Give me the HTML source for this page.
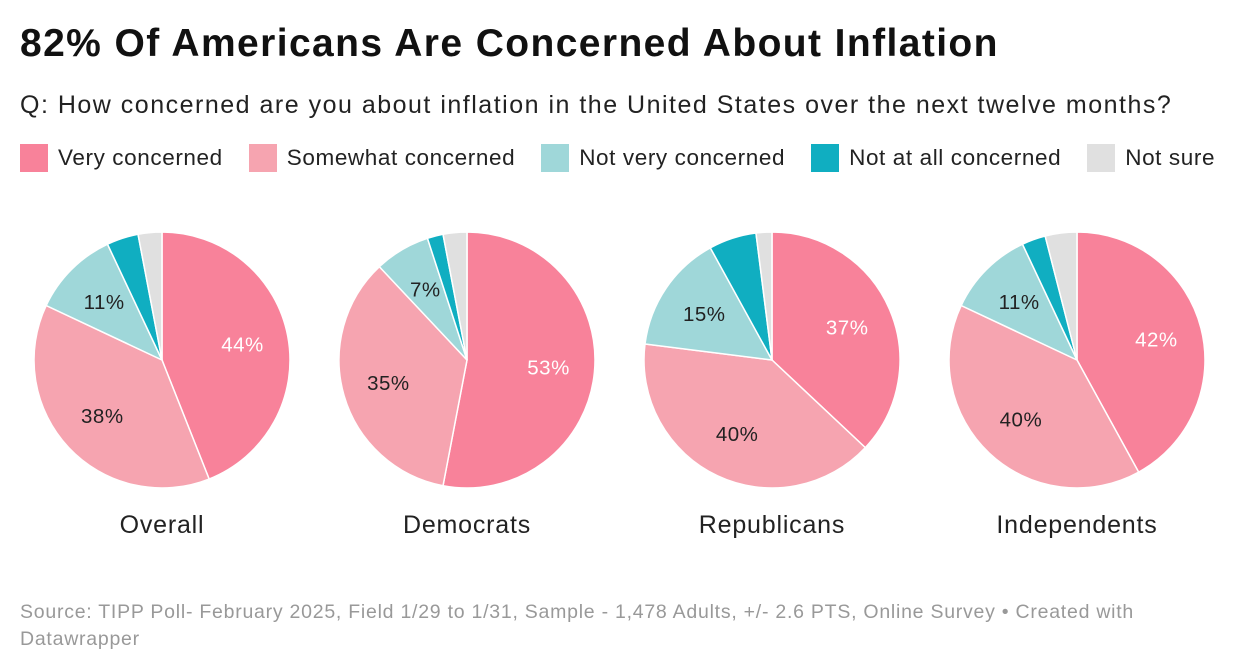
<!DOCTYPE html>
<html><head><meta charset="utf-8"><style>
body{margin:0;width:1240px;height:672px;background:#fff;font-family:"Liberation Sans",Arial,sans-serif;overflow:hidden;position:relative}
h1{position:absolute;left:20px;top:22px;margin:0;font-size:39px;font-weight:bold;color:#111;letter-spacing:1.4px;white-space:nowrap}
.q{position:absolute;left:20px;top:91px;font-size:25px;color:#222;letter-spacing:1.5px;white-space:nowrap}
.legend{position:absolute;left:20px;top:144px;font-size:22.5px;color:#222;display:flex;letter-spacing:0.6px;white-space:nowrap}
.li{display:flex;align-items:center;margin-right:26px}
.sw{width:28px;height:28px;margin-right:10px}
.src{position:absolute;left:20px;top:599px;font-size:19.5px;color:#999;line-height:27px;width:1160px;letter-spacing:0.75px}
</style></head><body>
<h1>82% Of Americans Are Concerned About Inflation</h1>
<div class="q">Q: How concerned are you about inflation in the United States over the next twelve months?</div>
<div class="legend">
<div class="li"><div class="sw" style="background:#f8829a"></div>Very concerned</div>
<div class="li"><div class="sw" style="background:#f6a4b0"></div>Somewhat concerned</div>
<div class="li"><div class="sw" style="background:#9fd7d9"></div>Not very concerned</div>
<div class="li"><div class="sw" style="background:#10aec1"></div>Not at all concerned</div>
<div class="li"><div class="sw" style="background:#e0e0e0"></div>Not sure</div>
</div>
<svg id="chart" width="1240" height="672" style="position:absolute;left:0;top:0"></svg>
<div class="src">Source: TIPP Poll- February 2025, Field 1/29 to 1/31, Sample - 1,478 Adults, +/- 2.6 PTS, Online Survey • Created with Datawrapper</div>
<script>
const groups=["Overall","Democrats","Republicans","Independents"];
const veryConcerned=[44,53,37,42];
const somewhatConcerned=[38,35,40,40];
const notVeryConcerned=[11,7,15,11];
const notAtAllConcerned=[4,2,6,3];
const notSure=[3,3,2,4];
const colors=["#f8829a","#f6a4b0","#9fd7d9","#10aec1","#e0e0e0"];
const labelColors=["#fff","#222","#222",null,null];
const svg=document.getElementById('chart');
const NS="http://www.w3.org/2000/svg";
const R=128,cy=360;
function cx(i){return 162+i*305;}
groups.forEach((g,i)=>{
  const vals=[veryConcerned[i],somewhatConcerned[i],notVeryConcerned[i],notAtAllConcerned[i],notSure[i]];
  const tot=vals.reduce((a,b)=>a+b,0);
  let a0=0;
  vals.forEach((v,k)=>{
    const a1=a0+v/tot*2*Math.PI;
    const x0=cx(i)+R*Math.sin(a0),y0=cy-R*Math.cos(a0),x1=cx(i)+R*Math.sin(a1),y1=cy-R*Math.cos(a1);
    const p=document.createElementNS(NS,'path');
    p.setAttribute('d',`M${cx(i)},${cy}L${x0},${y0}A${R},${R} 0 ${a1-a0>Math.PI?1:0} 1 ${x1},${y1}Z`);
    p.setAttribute('fill',colors[k]);p.setAttribute('stroke','#fff');p.setAttribute('stroke-width','1.5');
    
    
    svg.appendChild(p);
    if(labelColors[k]){
      const am=(a0+a1)/2,lr=R*0.64;
      const t=document.createElementNS(NS,'text');
      t.setAttribute('x',cx(i)+lr*Math.sin(am));t.setAttribute('y',cy-lr*Math.cos(am)+7);
      t.setAttribute('text-anchor','middle');t.setAttribute('font-size','20.5');t.setAttribute('fill',labelColors[k]);
      t.setAttribute('letter-spacing','0.5');
      t.textContent=v+'%';
      
      
      svg.appendChild(t);
    }
    a0=a1;
  });
  const t=document.createElementNS(NS,'text');
  t.setAttribute('x',cx(i));t.setAttribute('y',533);t.setAttribute('text-anchor','middle');
  t.setAttribute('font-size','25');t.setAttribute('fill','#222');t.setAttribute('letter-spacing','0.8');t.textContent=g;
  
  
  svg.appendChild(t);
});
</script>
</body></html>
